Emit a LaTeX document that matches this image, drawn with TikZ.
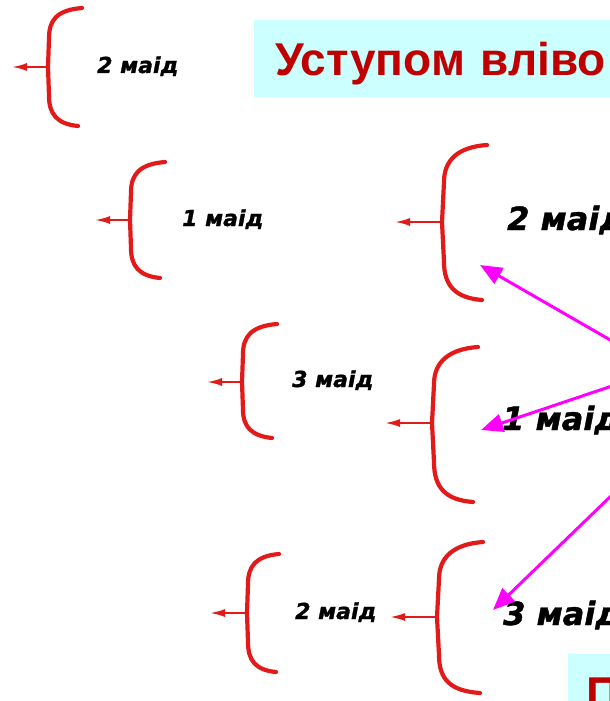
\documentclass[tikz,border=0pt]{standalone}
\usepackage{fontspec}
\setmainfont{Liberation Sans}
\newfontfamily\lblfont[FakeBold=1.3]{DejaVu Sans Bold Oblique}
\usetikzlibrary{positioning,arrows.meta}
\definecolor{bracered}{HTML}{E21A1A}
\definecolor{headred}{HTML}{C00000}
\definecolor{headcyan}{HTML}{CCFFFF}
\definecolor{pointmag}{HTML}{FF00FF}

\begin{document}
\begin{tikzpicture}[x=1pt, y=-1pt,
  brace/.style={draw=bracered, line width=4.2pt, line cap=round},
  jump/.style={draw=bracered, line width=2pt, -{Latex[length=15pt,width=8pt]}},
  small/.style={font=\lblfont\fontsize{22}{22}\selectfont, inner sep=0pt, anchor=base west},
  large/.style={font=\lblfont\fontsize{32}{32}\selectfont, inner sep=0pt, anchor=base west},
  banner/.style={fill=headcyan, text=headred, font=\bfseries\fontsize{46}{46}\selectfont,
    inner ysep=0pt, inner xsep=21pt, text width=340pt, align=left,
    text height=55pt, text depth=22pt, anchor=base west},
  pointer/.style={draw=pointmag, line width=3pt, -{Triangle[length=22pt,width=18pt]}}]
  \useasboundingbox (0,0) rectangle (610,701);
  \clip (0,0) rectangle (610,701);

  % headings
  \node[banner] (head) at (254,75) {Уступом вліво};
  \node[banner, inner xsep=18pt] (foot) at (568,709) {П};

  % braces, outer column
  \draw[brace] (82,8) .. controls (57,10) and (49,20) .. (49,38) -- (48,67) -- (49,96) .. controls (49,114) and (57,124) .. (78,126);
  \draw[brace] (165,162) .. controls (140,164) and (131,174) .. (131,192) -- (130,220) -- (131,248) .. controls (131,266) and (139,276) .. (160,278);
  \draw[brace] (277,324) .. controls (252,326) and (243,336) .. (243,354) -- (242,382) -- (243,410) .. controls (243,426) and (251,436) .. (272,438);
  \draw[brace] (279,554) .. controls (256,556) and (248,566) .. (248,584) -- (247,613) -- (248,642) .. controls (248,660) and (255,670) .. (276,672);

  % braces, inner column
  \draw[brace] (487,145) .. controls (458,147) and (444,160) .. (444,182) -- (442,222) -- (444,262) .. controls (444,286) and (456,298) .. (482,300);
  \draw[brace] (478,347) .. controls (449,349) and (434,362) .. (434,384) -- (432,423) -- (434,462) .. controls (434,488) and (446,500) .. (473,502);
  \draw[brace] (483,542) .. controls (454,544) and (439,557) .. (439,579) -- (437,617) -- (439,655) .. controls (439,680) and (451,691) .. (480,693);

  % brace middles and arrow ends
  \coordinate (m1) at (48,67);   \coordinate (e1) at (12,67);
  \coordinate (m2) at (130,220); \coordinate (e2) at (95,220);
  \coordinate (m3) at (442,222); \coordinate (e3) at (395,222);
  \coordinate (m4) at (242,382); \coordinate (e4) at (207,382);
  \coordinate (m5) at (432,423); \coordinate (e5) at (385,423);
  \coordinate (m6) at (247,613); \coordinate (e6) at (210,613);
  \coordinate (m7) at (437,617); \coordinate (e7) at (390,617);
  \draw[jump] (m1) -- (e1);
  \draw[jump] (m2) -- (e2);
  \draw[jump] (m3) -- (e3);
  \draw[jump] (m4) -- (e4);
  \draw[jump] (m5) -- (e5);
  \draw[jump] (m6) -- (e6);
  \draw[jump] (m7) -- (e7);

  % labels
  \node[small] (l1) at (97,73) {2 маід};
  \node[small] (l2) at (182,226) {1 маід};
  \node[small] (l4) at (292,387) {3 маід};
  \node[small] (l6) at (295,619) {2 маід};
  \node[large] (l3) at (507,230) {2 маід};
  \node[large] (l5) at (502,430) {1 маід};
  \node[large] (l7) at (503,625) {3 маід};

  % pointers from the right
  \coordinate (s1) at (612,341); \coordinate (t1) at (480,265);
  \coordinate (s2) at (612,386); \coordinate (t2) at (481,430);
  \coordinate (s3) at (612,495); \coordinate (t3) at (493,610);
  \draw[pointer] (s1) -- (t1);
  \draw[pointer] (s2) -- (t2);
  \draw[pointer] (s3) -- (t3);
\end{tikzpicture}
\end{document}
